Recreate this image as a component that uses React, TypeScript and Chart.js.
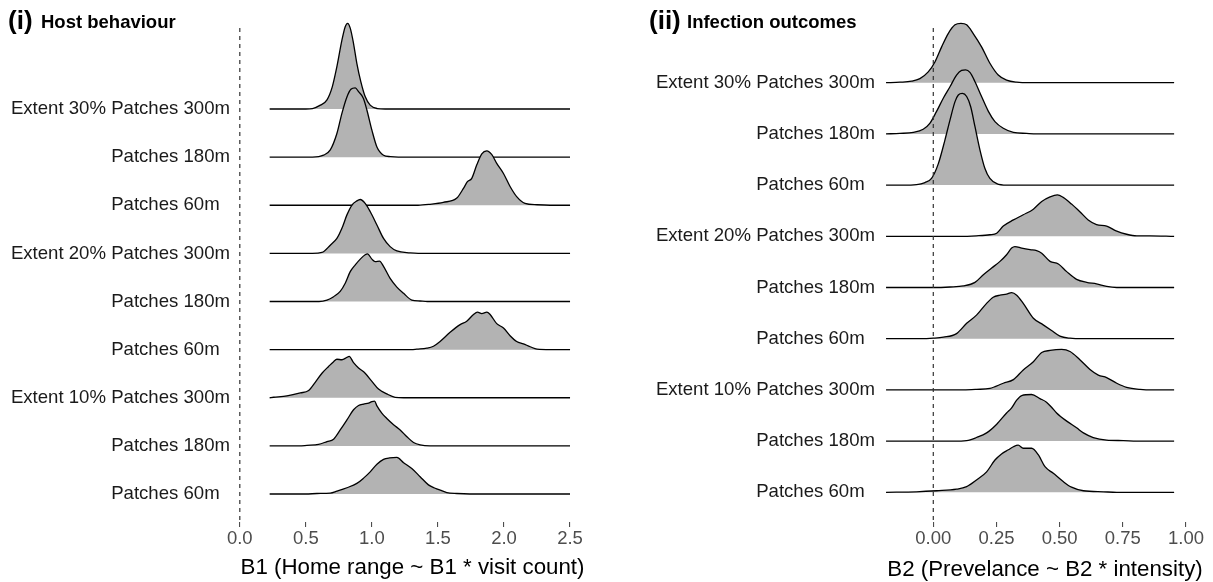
import React, { useEffect, useRef } from 'react';
import { Chart, registerables } from 'chart.js';

Chart.register(...registerables);

const FONT = "'Liberation Sans', Arial, Helvetica, sans-serif";
Chart.defaults.font.family = FONT;

type Pt = [number, number];

// Ridge categories, bottom → top
const categories = [
  'Patches 60m  ',
  'Patches 180m',
  'Extent 10% Patches 300m',
  'Patches 60m  ',
  'Patches 180m',
  'Extent 20% Patches 300m',
  'Patches 60m  ',
  'Patches 180m',
  'Extent 30% Patches 300m',
];

const hostTicks = [0, 0.5, 1, 1.5, 2, 2.5];
const hostTickLabels = ['0.0', '0.5', '1.0', '1.5', '2.0', '2.5'];
const infTicks = [0, 0.25, 0.5, 0.75, 1];
const infTickLabels = ['0.00', '0.25', '0.50', '0.75', '1.00'];

// (i) Host behaviour: [B1 value, ridge height]
const hostE10P60: Pt[] = [[0.226,0],[0.5,0],[0.584,0.01],[0.685,0.02],[0.735,0.06],[0.811,0.13],[0.886,0.22],[0.937,0.33],[0.987,0.46],[1.038,0.62],[1.088,0.72],[1.133,0.75],[1.189,0.76],[1.24,0.65],[1.302,0.53],[1.365,0.36],[1.428,0.19],[1.479,0.12],[1.517,0.08],[1.567,0.03],[1.643,0.01],[1.74,0],[2.5,0]];
const hostE10P180: Pt[] = [[0.226,0],[0.45,0],[0.508,0.01],[0.596,0.03],[0.66,0.09],[0.71,0.14],[0.76,0.33],[0.811,0.54],[0.861,0.75],[0.899,0.84],[0.937,0.87],[0.975,0.89],[1.0,0.92],[1.02,0.93],[1.038,0.83],[1.075,0.68],[1.113,0.57],[1.164,0.44],[1.214,0.33],[1.265,0.19],[1.315,0.07],[1.365,0.02],[1.44,0],[2.5,0]];
const hostE10P300: Pt[] = [[0.226,0],[0.256,0.01],[0.357,0.04],[0.458,0.1],[0.521,0.15],[0.571,0.32],[0.622,0.51],[0.672,0.65],[0.71,0.75],[0.735,0.8],[0.773,0.79],[0.811,0.84],[0.828,0.86],[0.861,0.73],[0.899,0.62],[0.949,0.51],[1.0,0.34],[1.05,0.18],[1.113,0.08],[1.176,0.01],[1.24,0],[2.5,0]];
const hostE20P60: Pt[] = [[0.226,0],[1.3,0],[1.34,0.01],[1.416,0.03],[1.466,0.07],[1.516,0.17],[1.592,0.36],[1.668,0.52],[1.718,0.59],[1.769,0.73],[1.799,0.78],[1.832,0.75],[1.87,0.78],[1.895,0.73],[1.945,0.54],[1.996,0.45],[2.046,0.29],[2.096,0.17],[2.147,0.12],[2.198,0.06],[2.25,0.01],[2.35,0],[2.5,0]];
const hostE20P180: Pt[] = [[0.226,0],[0.6,0],[0.66,0.03],[0.71,0.1],[0.76,0.21],[0.798,0.38],[0.836,0.62],[0.874,0.76],[0.912,0.88],[0.949,0.97],[0.967,0.99],[1.0,0.88],[1.025,0.83],[1.058,0.84],[1.088,0.73],[1.138,0.48],[1.189,0.3],[1.24,0.17],[1.302,0.03],[1.365,0.01],[1.42,0],[2.5,0]];
const hostE20P300: Pt[] = [[0.226,0],[0.55,0],[0.622,0.02],[0.685,0.17],[0.735,0.31],[0.773,0.52],[0.811,0.8],[0.848,1.0],[0.886,1.09],[0.912,1.12],[0.949,1.04],[0.987,0.87],[1.038,0.59],[1.088,0.31],[1.138,0.14],[1.189,0.05],[1.29,0.01],[1.35,0],[2.5,0]];
const hostE30P60: Pt[] = [[0.226,0],[1.35,0],[1.44,0.02],[1.54,0.06],[1.643,0.15],[1.693,0.35],[1.723,0.49],[1.756,0.56],[1.794,0.84],[1.832,1.07],[1.87,1.13],[1.908,1.05],[1.945,0.87],[1.996,0.66],[2.046,0.39],[2.096,0.18],[2.159,0.04],[2.25,0.01],[2.35,0],[2.5,0]];
const hostE30P180: Pt[] = [[0.226,0],[0.55,0],[0.634,0.04],[0.685,0.15],[0.735,0.49],[0.773,0.91],[0.811,1.25],[0.841,1.41],[0.874,1.44],[0.899,1.36],[0.936,1.22],[0.962,0.98],[1.0,0.56],[1.038,0.21],[1.088,0.04],[1.14,0.01],[1.2,0],[2.5,0]];
const hostE30P300: Pt[] = [[0.226,0],[0.5,0],[0.55,0.01],[0.61,0.08],[0.66,0.19],[0.7,0.46],[0.735,0.88],[0.773,1.43],[0.798,1.71],[0.816,1.78],[0.836,1.68],[0.861,1.36],[0.886,0.95],[0.916,0.57],[0.949,0.26],[0.987,0.08],[1.04,0.01],[1.1,0],[2.5,0]];

// (ii) Infection outcomes: [B2 value, ridge height]
const infE10P60: Pt[] = [[-0.187,0],[-0.066,0.01],[0.013,0.03],[0.092,0.06],[0.132,0.11],[0.171,0.24],[0.211,0.4],[0.244,0.63],[0.27,0.75],[0.297,0.83],[0.317,0.89],[0.336,0.92],[0.356,0.86],[0.389,0.86],[0.416,0.73],[0.442,0.5],[0.475,0.37],[0.514,0.21],[0.547,0.1],[0.594,0.03],[0.673,0.01],[0.726,0],[0.953,0]];
const infE10P180: Pt[] = [[-0.187,0],[0.08,0],[0.132,0.01],[0.171,0.07],[0.211,0.16],[0.251,0.33],[0.29,0.55],[0.31,0.65],[0.33,0.8],[0.35,0.89],[0.389,0.91],[0.422,0.83],[0.448,0.76],[0.468,0.66],[0.488,0.55],[0.528,0.39],[0.567,0.26],[0.594,0.16],[0.633,0.07],[0.686,0.02],[0.752,0.01],[0.805,0],[0.953,0]];
const infE10P300: Pt[] = [[-0.187,0],[0.12,0],[0.171,0.01],[0.224,0.03],[0.277,0.13],[0.317,0.2],[0.356,0.39],[0.396,0.55],[0.429,0.73],[0.462,0.77],[0.508,0.79],[0.541,0.75],[0.58,0.59],[0.62,0.4],[0.653,0.29],[0.686,0.24],[0.726,0.13],[0.765,0.05],[0.818,0.01],[0.871,0],[0.953,0]];
const infE20P60: Pt[] = [[-0.187,0],[-0.05,0],[0,0.01],[0.04,0.03],[0.092,0.1],[0.132,0.3],[0.171,0.46],[0.211,0.69],[0.237,0.81],[0.264,0.85],[0.29,0.87],[0.31,0.9],[0.33,0.85],[0.356,0.69],[0.396,0.4],[0.435,0.27],[0.468,0.16],[0.501,0.05],[0.541,0.01],[0.594,0],[0.953,0]];
const infE20P180: Pt[] = [[-0.187,0],[0,0],[0.066,0.01],[0.119,0.03],[0.165,0.1],[0.198,0.25],[0.231,0.38],[0.264,0.51],[0.29,0.64],[0.31,0.77],[0.323,0.8],[0.35,0.77],[0.383,0.74],[0.409,0.72],[0.429,0.67],[0.462,0.51],[0.495,0.46],[0.528,0.31],[0.567,0.16],[0.607,0.1],[0.646,0.07],[0.686,0.02],[0.726,0],[0.953,0]];
const infE20P300: Pt[] = [[-0.187,0],[0.1,0],[0.171,0.01],[0.224,0.03],[0.251,0.06],[0.277,0.2],[0.317,0.32],[0.356,0.42],[0.396,0.53],[0.429,0.68],[0.462,0.77],[0.491,0.81],[0.514,0.76],[0.547,0.63],[0.58,0.48],[0.613,0.32],[0.646,0.23],[0.686,0.2],[0.726,0.1],[0.765,0.04],[0.805,0.01],[0.857,0.01],[0.953,0]];
const infE30P60: Pt[] = [[-0.187,0],[-0.12,0],[-0.066,0.01],[-0.033,0.05],[-0.007,0.13],[0.02,0.42],[0.046,0.88],[0.066,1.27],[0.086,1.63],[0.099,1.76],[0.115,1.79],[0.132,1.73],[0.148,1.53],[0.165,1.14],[0.185,0.68],[0.204,0.33],[0.224,0.13],[0.251,0.03],[0.29,0],[0.953,0]];
const infE30P180: Pt[] = [[-0.187,0],[-0.132,0.01],[-0.079,0.03],[-0.04,0.09],[-0.013,0.21],[0.013,0.44],[0.04,0.7],[0.066,0.92],[0.092,1.15],[0.112,1.24],[0.128,1.25],[0.145,1.2],[0.165,1.02],[0.191,0.73],[0.218,0.44],[0.244,0.24],[0.277,0.11],[0.317,0.03],[0.369,0.01],[0.409,0],[0.953,0]];
const infE30P300: Pt[] = [[-0.187,0],[-0.132,0.01],[-0.086,0.03],[-0.053,0.08],[-0.02,0.21],[0.007,0.41],[0.033,0.7],[0.059,0.96],[0.086,1.13],[0.1095,1.16],[0.132,1.13],[0.158,0.96],[0.191,0.7],[0.224,0.38],[0.257,0.15],[0.29,0.05],[0.33,0.01],[0.383,0],[0.953,0]];

const H = 582;

interface PanelSpec {
  left: number;
  width: number;
  chartLeft: number;
  chartRight: number;
  top: number;
  bottom: number;
  xMin: number;
  xMax: number;
  yMin: number;
  yMax: number;
  ticks: number[];
  tickLabels: string[];
  xTitle: string;
  titlePadBottom: number;
  tag: string;
  sub: string;
  tagX: number;
  subX: number;
  refX: number;
  curves: Pt[][];
}

const hostSpec: PanelSpec = {
  left: 0, width: 600, chartLeft: 233, chartRight: 592, top: 20, bottom: 522,
  xMin: -0.0515, xMax: 2.6662, yMin: 0.4182, yMax: 10.8494,
  ticks: hostTicks, tickLabels: hostTickLabels,
  xTitle: 'B1 (Home range ~ B1 * visit count)', titlePadBottom: 1,
  tag: '(i)', sub: 'Host behaviour', tagX: 8, subX: 41, refX: 0,
  curves: [hostE10P60, hostE10P180, hostE10P300, hostE20P60, hostE20P180, hostE20P300, hostE30P60, hostE30P180, hostE30P300],
};

const infSpec: PanelSpec = {
  left: 600, width: 613, chartLeft: 278, chartRight: 612, top: 20, bottom: 522,
  xMin: -0.2188, xMax: 1.1029, yMin: 0.4199, yMax: 10.2246,
  ticks: infTicks, tickLabels: infTickLabels,
  xTitle: 'B2 (Prevelance ~ B2 * intensity)', titlePadBottom: -1,
  tag: '(ii)', sub: 'Infection outcomes', tagX: 49, subX: 87, refX: 0,
  curves: [infE10P60, infE10P180, infE10P300, infE20P60, infE20P180, infE20P300, infE30P60, infE30P180, infE30P300],
};

function Panel({ spec }: { spec: PanelSpec }) {
  const ref = useRef<HTMLCanvasElement>(null);
  useEffect(() => {
    const canvas = ref.current!;
    const datasets = spec.curves.map((pts, i) => {
      const base = i + 1;
      return {
        data: pts.map(([x, h]) => ({ x, y: base + h })),
        borderColor: '#000000',
        borderWidth: 1.3,
        backgroundColor: '#b3b3b3',
        fill: { value: base },
        pointRadius: 0,
        pointHoverRadius: 0,
        cubicInterpolationMode: 'monotone' as const,
        clip: false as const,
      };
    });
    const decor = {
      id: 'decor',
      afterDatasetsDraw(chart: any) {
        const { ctx, chartArea, scales } = chart;
        const x = scales.x.getPixelForValue(spec.refX);
        ctx.save();
        ctx.setLineDash([4, 4]);
        ctx.strokeStyle = '#333333';
        ctx.lineWidth = 1.2;
        ctx.beginPath();
        ctx.moveTo(x, chartArea.top + 8);
        ctx.lineTo(x, chartArea.bottom);
        ctx.stroke();
        ctx.restore();
      },
      afterDraw(chart: any) {
        const ctx = chart.ctx;
        ctx.save();
        ctx.fillStyle = '#000000';
        ctx.textBaseline = 'alphabetic';
        ctx.textAlign = 'left';
        ctx.font = `bold 26px ${FONT}`;
        ctx.fillText(spec.tag, spec.tagX, 29);
        ctx.font = `bold 18.5px ${FONT}`;
        ctx.fillText(spec.sub, spec.subX, 28);
        ctx.restore();
      },
    };
    const chart = new Chart(canvas, {
      type: 'line',
      data: { datasets: datasets as any },
      options: {
        animation: false,
        responsive: false,
        maintainAspectRatio: false,
        devicePixelRatio: 1,
        events: [],
        layout: { padding: { left: 0, right: spec.width - spec.chartRight, top: spec.top, bottom: 0 } },
        plugins: { legend: { display: false }, tooltip: { enabled: false }, title: { display: false } },
        scales: {
          x: {
            type: 'linear',
            min: spec.xMin,
            max: spec.xMax,
            afterBuildTicks: (s: any) => { s.ticks = spec.ticks.map((v) => ({ value: v })); },
            afterFit: (s: any) => { s.height = H - spec.bottom; },
            ticks: {
              callback: (_v: any, i: number) => spec.tickLabels[i],
              font: { size: 18.5, family: FONT },
              color: '#4d4d4d',
              padding: 1,
              maxRotation: 0,
              autoSkip: false,
            },
            grid: { display: true, drawOnChartArea: false, drawTicks: true, tickLength: 5, color: '#4d4d4d', lineWidth: 1.1 },
            border: { display: false },
            title: {
              display: true,
              text: spec.xTitle,
              font: { size: 22.3, family: FONT },
              color: '#000000',
              padding: { top: 0, bottom: spec.titlePadBottom },
            },
          },
          y: {
            type: 'linear',
            min: spec.yMin,
            max: spec.yMax,
            afterBuildTicks: (s: any) => { s.ticks = categories.map((_c, i) => ({ value: i + 1 })); },
            afterFit: (s: any) => { s.width = spec.chartLeft; },
            ticks: {
              callback: (v: any) => categories[Math.round(Number(v)) - 1],
              font: { size: 18.6, family: FONT },
              color: '#1a1a1a',
              padding: 3,
              autoSkip: false,
            },
            grid: { display: false, drawTicks: false },
            border: { display: false },
          },
        },
      },
      plugins: [decor],
    } as any);
    return () => chart.destroy();
  }, [spec]);
  return (
    <canvas
      ref={ref}
      width={spec.width}
      height={H}
      style={{ position: 'absolute', left: spec.left, top: 0, width: spec.width, height: H }}
    />
  );
}

export default function App() {
  return (
    <div style={{ position: 'fixed', left: 0, top: 0, width: 1213, height: H, background: '#ffffff' }}>
      <Panel spec={hostSpec} />
      <Panel spec={infSpec} />
    </div>
  );
}
